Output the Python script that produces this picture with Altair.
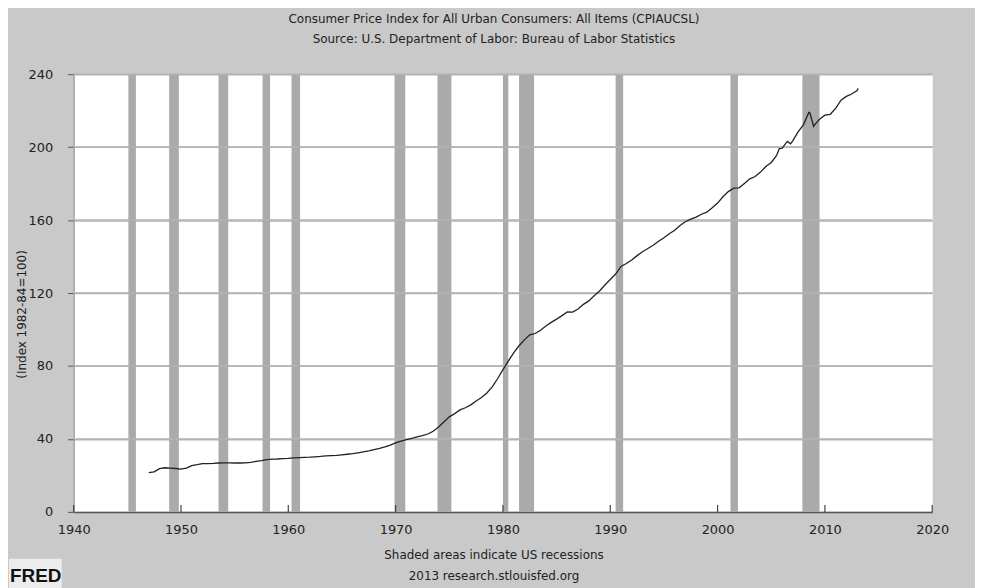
import altair as alt
import pandas as pd

# CPI (CPIAUCSL), fractional years
years = [1947.0, 1947.5, 1948.0, 1948.5, 1949.0, 1949.5, 1950.0, 1950.5, 1951.0, 1951.5,
         1952.0, 1952.5, 1953.0, 1953.5, 1954.0, 1954.5, 1955.0, 1955.5, 1956.0, 1956.5,
         1957.0, 1957.5, 1958.0, 1958.5, 1959.0, 1959.5, 1960.0, 1960.5, 1961.0, 1961.5,
         1962.0, 1962.5, 1963.0, 1963.5, 1964.0, 1964.5, 1965.0, 1965.5, 1966.0, 1966.5,
         1967.0, 1967.5, 1968.0, 1968.5, 1969.0, 1969.5, 1970.0, 1970.5, 1971.0, 1971.5,
         1972.0, 1972.5, 1973.0, 1973.5, 1974.0, 1974.5, 1975.0, 1975.5, 1976.0, 1976.5,
         1977.0, 1977.5, 1978.0, 1978.5, 1979.0, 1979.5, 1980.0, 1980.5, 1981.0, 1981.5,
         1982.0, 1982.5, 1983.0, 1983.5, 1984.0, 1984.5, 1985.0, 1985.5, 1986.0, 1986.5,
         1987.0, 1987.5, 1988.0, 1988.5, 1989.0, 1989.5, 1990.0, 1990.5, 1991.0, 1991.5,
         1992.0, 1992.5, 1993.0, 1993.5, 1994.0, 1994.5, 1995.0, 1995.5, 1996.0, 1996.5,
         1997.0, 1997.5, 1998.0, 1998.5, 1999.0, 1999.5, 2000.0, 2000.5, 2001.0, 2001.5,
         2002.0, 2002.5, 2003.0, 2003.5, 2004.0, 2004.5, 2005.0, 2005.5, 2005.75, 2006.0,
         2006.5, 2006.8, 2007.0, 2007.5, 2008.0, 2008.5, 2008.6, 2008.95, 2009.0, 2009.5,
         2010.0, 2010.5, 2011.0, 2011.5, 2012.0, 2012.5, 2013.0, 2013.1]
cpi = [21.5, 22.0, 23.7, 24.2, 24.0, 23.8, 23.5, 24.0, 25.4, 25.9,
       26.5, 26.5, 26.6, 26.8, 26.9, 26.9, 26.8, 26.8, 26.9, 27.2,
       27.7, 28.1, 28.6, 28.9, 29.0, 29.2, 29.3, 29.6, 29.8, 29.9,
       30.0, 30.2, 30.4, 30.7, 30.9, 31.0, 31.3, 31.6, 31.9, 32.4,
       32.9, 33.4, 34.1, 34.8, 35.6, 36.6, 37.8, 38.8, 39.6, 40.3,
       41.1, 41.8, 42.7, 44.2, 46.6, 49.3, 52.1, 53.9, 55.9, 57.1,
       58.7, 60.8, 62.7, 65.2, 68.5, 73.0, 78.0, 82.7, 87.2, 91.1,
       94.3, 97.1, 97.8, 99.6, 101.9, 103.9, 105.7, 107.6, 109.6, 109.5,
       111.2, 113.8, 115.7, 118.5, 121.1, 124.4, 127.4, 130.4, 134.6, 136.2,
       138.1, 140.5, 142.6, 144.4, 146.2, 148.4, 150.3, 152.5, 154.4, 157.0,
       159.1, 160.5, 161.6, 163.2, 164.3, 166.7, 169.3, 172.8, 175.6, 177.5,
       177.7, 180.1, 182.6, 183.9, 186.3, 189.4, 191.6, 195.4, 199.2, 199.3,
       203.1, 201.8, 203.4, 208.3, 212.2, 219.0, 218.7, 211.4, 211.9, 215.3,
       217.5, 218.0, 221.2, 225.7, 227.8, 229.1, 231.0, 232.2]

# US recessions (NBER), fractional years
rec_start = [1945.1, 1948.9, 1953.5, 1957.6, 1960.3, 1969.9, 1973.9, 1980.0, 1981.5, 1990.5, 2001.2, 2007.9]
rec_end = [1945.8, 1949.8, 1954.4, 1958.3, 1961.1, 1970.9, 1975.2, 1980.5, 1982.9, 1991.2, 2001.9, 2009.5]

decades = [1940, 1950, 1960, 1970, 1980, 1990, 2000, 2010, 2020]
y_ticks = [0, 40, 80, 120, 160, 200, 240]

W, H = 863, 440
FONT = "DejaVu Sans"

line_df = pd.DataFrame({"year": years, "cpi": cpi})
rec_df = pd.DataFrame({"start": rec_start, "end": rec_end})
dec_df = pd.DataFrame({"year": decades})

xscale = alt.Scale(domain=[1940, 2020], nice=False, zero=False)
yscale = alt.Scale(domain=[0, 240], nice=False)

xaxis = alt.Axis(values=decades, format="d", grid=False, ticks=False, domainColor="#555555",
                 domainWidth=1.5, labelFont=FONT, labelFontSize=13, labelColor="#222222",
                 labelPadding=12, labelFlush=False,
                 title=["Shaded areas indicate US recessions", "2013 research.stlouisfed.org"],
                 titleFont=FONT, titleFontSize=12, titleFontWeight="normal", titleColor="#222222",
                 titleX=422, titleY=47, titleAnchor="middle", titleAlign="center",
                 titleBaseline="alphabetic", titleLineHeight=21)
yaxis = alt.Axis(values=y_ticks, grid=True, gridColor="#b3b3b3", gridWidth=1.5,
                 domainColor="#888888", tickColor="#555555", tickSize=6,
                 labelFont=FONT, labelFontSize=13, labelColor="#222222", labelPadding=15,
                 title="(Index 1982-84=100)", titleFont=FONT, titleFontSize=12,
                 titleFontWeight="normal", titleColor="#222222", titleAngle=270,
                 titleX=-52, titleY=241, titleAlign="center", titleBaseline="middle")

recessions = alt.Chart(rec_df).mark_rect(color="#aaaaaa").encode(
    x=alt.X("start:Q", scale=xscale, axis=xaxis),
    x2="end:Q",
    y=alt.value(0),
    y2=alt.value(H),
)

grid = alt.Chart(pd.DataFrame({"v": y_ticks[1:]})).mark_rule(color="#b3b3b3", strokeWidth=1.5).encode(
    y=alt.Y("v:Q", scale=yscale, axis=yaxis)
)

line = alt.Chart(line_df).mark_line(color="#222222", strokeWidth=1.3).encode(
    x=alt.X("year:Q", scale=xscale),
    y=alt.Y("cpi:Q", scale=yscale),
)

ticks = alt.Chart(dec_df).mark_rule(color="#444444", strokeWidth=1.2).encode(
    x=alt.X("year:Q", scale=xscale),
    y=alt.value(H - 7),
    y2=alt.value(H),
)

logo_box = alt.Chart(pd.DataFrame({"a": [0]})).mark_rect(color="#ececec").encode(
    x=alt.value(-65), x2=alt.value(-12), y=alt.value(487), y2=alt.value(520)
)
logo = alt.Chart(pd.DataFrame({"t": ["FRED"]})).mark_text(
    font="Liberation Sans", fontSize=19, fontWeight="bold",
    color="#111111", align="left", baseline="alphabetic"
).encode(text="t:N", x=alt.value(-64), y=alt.value(510))

chart = alt.layer(recessions, grid, line, ticks, logo_box, logo).properties(
    width=W, height=H,
    title=alt.TitleParams(
        text=["Consumer Price Index for All Urban Consumers: All Items (CPIAUCSL)",
              "Source: U.S. Department of Labor: Bureau of Labor Statistics"],
        font=FONT, fontSize=12, fontWeight="normal", color="#222222",
        anchor="middle", dx=-9, offset=22, lineHeight=20,
    ),
    autosize=alt.AutoSizeParams(type="none"),
    padding={"left": 66, "top": 65, "right": 43, "bottom": 75},
).configure(background="#c9c9c9").configure_view(fill="white", stroke="transparent")

chart.save("out.html", embed_options={"renderer": "svg", "actions": False})
